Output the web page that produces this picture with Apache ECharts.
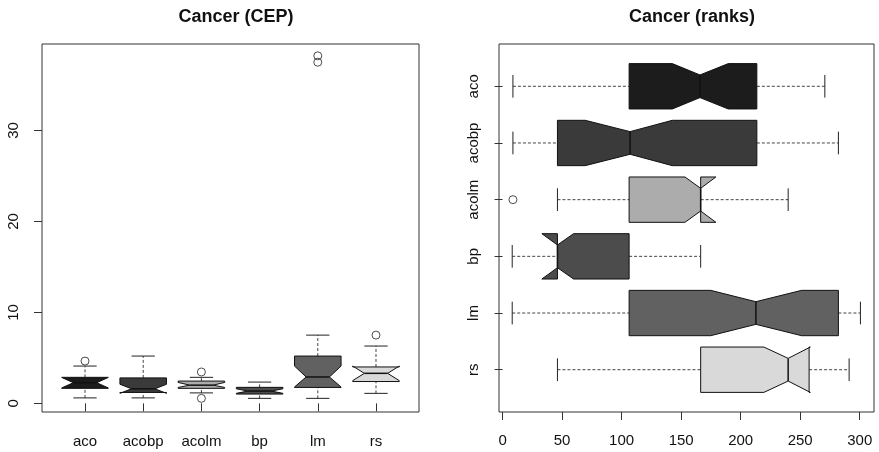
<!DOCTYPE html>
<html>
<head>
<meta charset="utf-8">
<script src="https://cdn.jsdelivr.net/npm/echarts@6/dist/echarts.min.js"></script>
<style>
  html, body { margin: 0; padding: 0; background: #fff; }
  #chart { width: 879px; height: 452px; }
</style>
</head>
<body>
<div id="chart"></div>
<script>
var methods = ['aco', 'acobp', 'acolm', 'bp', 'lm', 'rs'];
var fills = ['#1c1c1c', '#3a3a3a', '#acacac', '#4c4c4c', '#616161', '#d9d9d9'];

// Cancer (CEP): whisker ends, hinges, notches, medians
var cepMin     = [0.6, 0.6, 1.15, 0.55, 0.55, 1.1];
var cepQ1      = [1.65, 1.2, 1.65, 1.02, 1.75, 2.4];
var cepNotchLo = [1.7, 1.1, 1.75, 1.1, 1.8, 2.5];
var cepMed     = [2.27, 1.6, 2.0, 1.35, 2.9, 3.3];
var cepNotchHi = [2.85, 2.1, 2.3, 1.6, 4.1, 4.1];
var cepQ3      = [2.86, 2.8, 2.45, 1.76, 5.2, 4.0];
var cepMax     = [4.1, 5.2, 2.86, 2.34, 7.5, 6.3];
var cepOutlierCat = [1, 3, 3, 5, 5, 6];
var cepOutlierVal = [4.65, 3.45, 0.55, 38.2, 37.5, 7.5];
var cepTicks = [0, 10, 20, 30];

// Cancer (ranks)
var rankMin     = [8.7, 8.7, 46.1, 8.1, 8.1, 46.1];
var rankQ1      = [106.3, 46.1, 106.3, 46.1, 106.3, 166.4];
var rankNotchLo = [142.6, 69.4, 153.2, 33.0, 174.8, 219.5];
var rankMed     = [165.8, 107.1, 166.4, 46.1, 212.8, 239.9];
var rankNotchHi = [189.6, 142.6, 179.2, 59.6, 251.2, 258.5];
var rankQ3      = [213.6, 213.6, 166.4, 106.3, 282.1, 257.5];
var rankMax     = [270.7, 282.1, 239.9, 166.4, 300.6, 291.1];
var rankOutlierCat = [3];
var rankOutlierVal = [8.7];
var rankTicks = [0, 50, 100, 150, 200, 250, 300];

var catPos = [1, 2, 3, 4, 5, 6];
var boxHalf = 0.4, waistHalf = 0.2, capHalf = 0.2;

function boxData(mn, q1, nlo, med, nhi, q3, mx) {
  return catPos.map(function (p, i) {
    return [p, mn[i], q1[i], nlo[i], med[i], nhi[i], q3[i], mx[i]];
  });
}

function makeRender(vertical) {
  return function (params, api) {
    var pos = api.value(0);
    function pt(off, v) {
      return vertical ? api.coord([pos + off, v]) : api.coord([v, pos + off]);
    }
    var mn = api.value(1), q1 = api.value(2), nlo = api.value(3), med = api.value(4),
        nhi = api.value(5), q3 = api.value(6), mx = api.value(7);
    var w = boxHalf, wn = waistHalf;
    var poly = [pt(-w, q1), pt(-w, nlo), pt(-wn, med), pt(-w, nhi), pt(-w, q3),
                pt(w, q3), pt(w, nhi), pt(wn, med), pt(w, nlo), pt(w, q1)];
    var dash = { stroke: '#444', lineWidth: 1, lineDash: [3, 2] };
    var solid = { stroke: '#222', lineWidth: 1 };
    function seg(a, b, style) {
      return { type: 'line', shape: { x1: a[0], y1: a[1], x2: b[0], y2: b[1] }, style: style };
    }
    return {
      type: 'group',
      children: [
        seg(pt(0, mn), pt(0, q1), dash),
        seg(pt(0, q3), pt(0, mx), dash),
        seg(pt(-capHalf, mn), pt(capHalf, mn), solid),
        seg(pt(-capHalf, mx), pt(capHalf, mx), solid),
        { type: 'polygon', shape: { points: poly },
          style: { fill: fills[params.dataIndex], stroke: '#111', lineWidth: 1 } },
        seg(pt(-wn, med), pt(wn, med), { stroke: '#111', lineWidth: 1.5 })
      ]
    };
  };
}

var labelFont = { fontFamily: 'Liberation Sans, Arial, sans-serif', fontSize: 15, color: '#111' };
var tickStyle = { show: true, length: 8, lineStyle: { color: '#333' } };
var titleFont = { fontFamily: 'Liberation Sans, Arial, sans-serif', fontSize: 18, fontWeight: 'bold', color: '#111' };

var chart = echarts.init(document.getElementById('chart'));
chart.setOption({
  backgroundColor: '#fff',
  animation: false,
  title: [
    { text: 'Cancer (CEP)', left: 231, top: 3, textAlign: 'center', textStyle: titleFont },
    { text: 'Cancer (ranks)', left: 687, top: 3, textAlign: 'center', textStyle: titleFont }
  ],
  grid: [
    { left: 42, right: 460, top: 44, bottom: 40, show: true, borderColor: '#333', borderWidth: 1 },
    { left: 499, right: 5, top: 44, bottom: 40, show: true, borderColor: '#333', borderWidth: 1 }
  ],
  xAxis: [
    { type: 'value', gridIndex: 0, min: 0.261, max: 6.739,
      axisLine: { show: false }, splitLine: { show: false },
      axisTick: Object.assign({ customValues: catPos }, tickStyle),
      axisLabel: Object.assign({ customValues: catPos, margin: 22,
        formatter: function (v) { return methods[Math.round(v) - 1]; } }, labelFont) },
    { type: 'value', gridIndex: 1, min: -3, max: 312,
      axisLine: { show: false }, splitLine: { show: false },
      axisTick: Object.assign({ customValues: rankTicks }, tickStyle),
      axisLabel: Object.assign({ customValues: rankTicks, margin: 21 }, labelFont) }
  ],
  yAxis: [
    { type: 'value', gridIndex: 0, min: -0.95, max: 39.5,
      axisLine: { show: false }, splitLine: { show: false },
      axisTick: Object.assign({ customValues: cepTicks }, tickStyle),
      axisLabel: Object.assign({ customValues: cepTicks, rotate: 90, margin: 21 }, labelFont) },
    { type: 'value', gridIndex: 1, min: 0.254, max: 6.746, inverse: true,
      axisLine: { show: false }, splitLine: { show: false },
      axisTick: Object.assign({ customValues: catPos }, tickStyle),
      axisLabel: Object.assign({ customValues: catPos, rotate: 90, margin: 18,
        formatter: function (v) { return methods[Math.round(v) - 1]; } }, labelFont) }
  ],
  series: [
    { type: 'custom', xAxisIndex: 0, yAxisIndex: 0,
      renderItem: makeRender(true),
      encode: { x: 0, y: [1, 2, 3, 4, 5, 6, 7] },
      data: boxData(cepMin, cepQ1, cepNotchLo, cepMed, cepNotchHi, cepQ3, cepMax) },
    { type: 'scatter', xAxisIndex: 0, yAxisIndex: 0, symbol: 'circle', symbolSize: 8,
      itemStyle: { color: 'rgba(255,255,255,0)', borderColor: '#222', borderWidth: 1 },
      data: cepOutlierCat.map(function (c, i) { return [c, cepOutlierVal[i]]; }) },
    { type: 'custom', xAxisIndex: 1, yAxisIndex: 1,
      renderItem: makeRender(false),
      encode: { y: 0, x: [1, 2, 3, 4, 5, 6, 7] },
      data: boxData(rankMin, rankQ1, rankNotchLo, rankMed, rankNotchHi, rankQ3, rankMax) },
    { type: 'scatter', xAxisIndex: 1, yAxisIndex: 1, symbol: 'circle', symbolSize: 8,
      itemStyle: { color: 'rgba(255,255,255,0)', borderColor: '#222', borderWidth: 1 },
      data: rankOutlierCat.map(function (c, i) { return [rankOutlierVal[i], c]; }) }
  ]
});
</script>
</body>
</html>
